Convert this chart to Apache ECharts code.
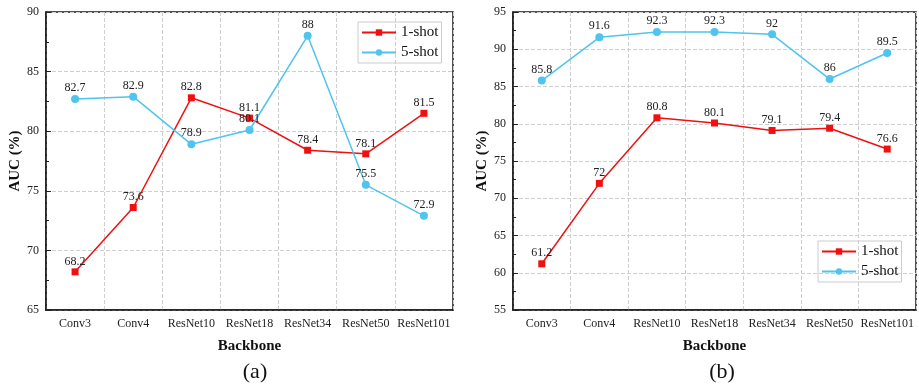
<!DOCTYPE html>
<html><head><meta charset="utf-8">
<script src="https://cdn.jsdelivr.net/npm/echarts@6/dist/echarts.min.js"></script>
<style>html,body{margin:0;padding:0;background:#fff}#c{width:919px;height:385px}</style>
</head><body><div id="c"></div>
<script>
const categories = ['Conv3','Conv4','ResNet10','ResNet18','ResNet34','ResNet50','ResNet101'];
const a1shot = [68.2, 73.6, 82.8, 81.1, 78.4, 78.1, 81.5];
const a5shot = [82.7, 82.9, 78.9, 80.1, 88, 75.5, 72.9];
const b1shot = [61.2, 72, 80.8, 80.1, 79.1, 79.4, 76.6];
const b5shot = [85.8, 91.6, 92.3, 92.3, 92, 86, 89.5];
const yTicksA = [65, 90, 5];
const yTicksB = [55, 95, 5];

const FONT = '"Liberation Serif","Times New Roman",serif';
const RED = '#f01010';
const CYAN = '#4ec4ee';

function xAxis(gi){
  return {
    type:'category', gridIndex:gi, data:categories, boundaryGap:true,
    axisLine:{show:true, lineStyle:{color:'#1a1a1a', width:1.5}},
    axisTick:{show:false},
    axisLabel:{fontFamily:FONT, fontSize:12, color:'#222', margin:8, interval:0},
    splitLine:{show:true, interval:0, lineStyle:{type:'dashed', color:'#cfcfcf'}},
    name:'Backbone', nameLocation:'middle', nameGap:29,
    nameTextStyle:{fontFamily:FONT, fontSize:15, fontWeight:'bold', color:'#111'}
  };
}
function yAxis(gi, t){
  return {
    type:'value', gridIndex:gi, min:t[0], max:t[1], interval:t[2],
    axisLine:{show:true, lineStyle:{color:'#1a1a1a', width:1.5}},
    axisTick:{show:true, inside:true, length:5, lineStyle:{color:'#222'}},
    minorTick:{show:true, splitNumber:2, length:3, lineStyle:{color:'#222'}},
    axisLabel:{fontFamily:FONT, fontSize:12, color:'#222', margin:7},
    splitLine:{show:true, lineStyle:{type:'dashed', color:'#cfcfcf'}},
    name:'AUC (%)', nameLocation:'middle', nameGap:14,
    nameTextStyle:{fontFamily:FONT, fontSize:15, fontWeight:'bold', color:'#111'}
  };
}
function series(name, data, gi, color, symbol, size){
  return {
    name, type:'line', data, xAxisIndex:gi, yAxisIndex:gi,
    symbol, symbolSize:size, lineStyle:{color, width:1.5}, itemStyle:{color},
    label:{show:true, position:'top', distance:1, fontFamily:FONT, fontSize:12, color:'#222'},
    emphasis:{disabled:true}, animation:false
  };
}
function legend(left, top){
  return {
    left, top, orient:'vertical', data:['1-shot','5-shot'],
    itemWidth:34, itemHeight:8, itemGap:5,
    borderColor:'#ccc', borderWidth:1, padding:[3,3,3,3],
    textStyle:{fontFamily:FONT, fontSize:15, color:'#111'}
  };
}
const chart = echarts.init(document.getElementById('c'));
chart.setOption({
  backgroundColor:'#fff',
  animation:false,
  grid:[
    {left:46, right:466, top:12, bottom:75, show:true, borderColor:'#1a1a1a', borderWidth:1.5},
    {left:513, right:3, top:12, bottom:75, show:true, borderColor:'#1a1a1a', borderWidth:1.5}
  ],
  xAxis:[xAxis(0), xAxis(1)],
  yAxis:[yAxis(0, yTicksA), yAxis(1, yTicksB)],
  legend:[legend(358, 22), legend(818, 241)],
  title:[
    {text:'(a)', left:250, top:356, textAlign:'center', textStyle:{fontFamily:FONT, fontSize:22, fontWeight:'normal', color:'#111'}},
    {text:'(b)', left:717, top:356, textAlign:'center', textStyle:{fontFamily:FONT, fontSize:22, fontWeight:'normal', color:'#111'}}
  ],
  series:[
    series('1-shot', a1shot, 0, RED, 'rect', 7),
    series('5-shot', a5shot, 0, CYAN, 'circle', 8),
    series('1-shot', b1shot, 1, RED, 'rect', 7),
    series('5-shot', b5shot, 1, CYAN, 'circle', 8)
  ]
});
</script></body></html>
